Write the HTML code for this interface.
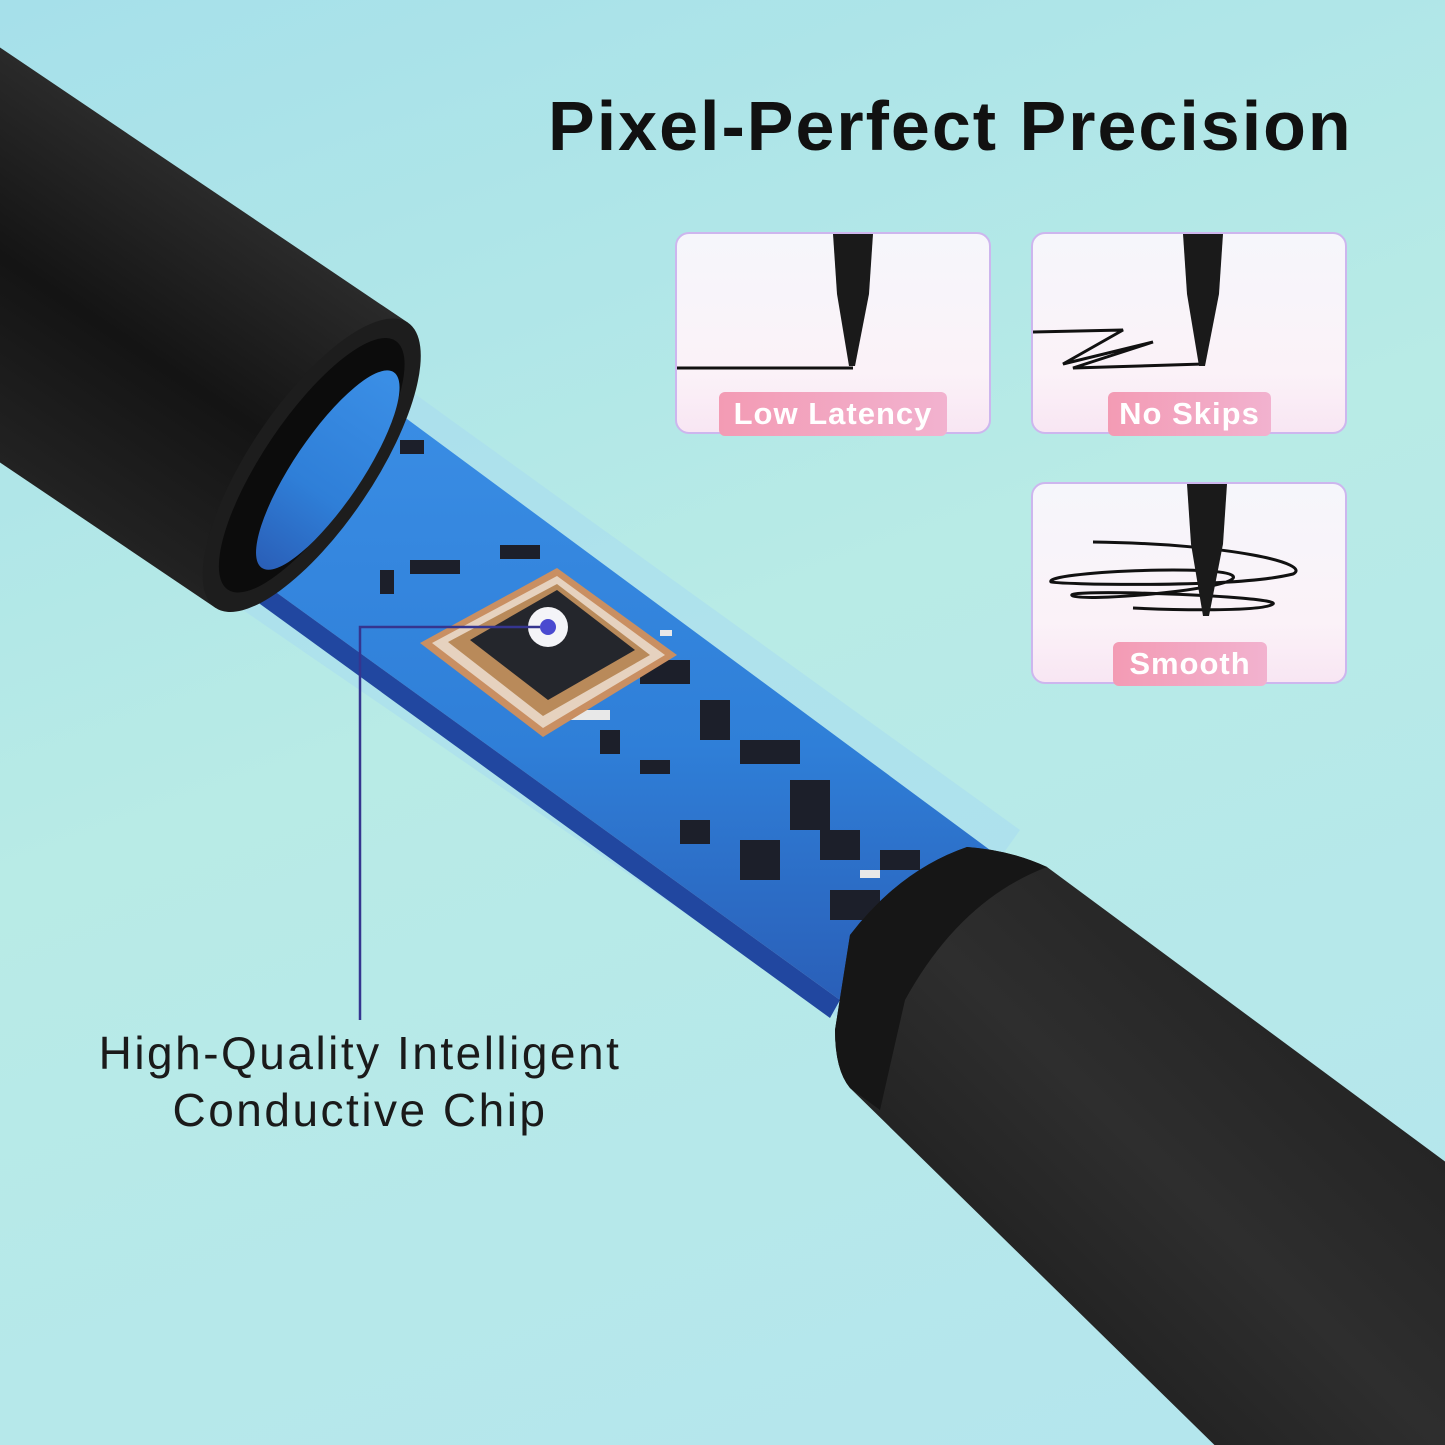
<!DOCTYPE html>
<html><head><meta charset="utf-8"><style>
html,body{margin:0;padding:0}
body{width:1445px;height:1445px;overflow:hidden;background:linear-gradient(160deg,#a6e0ea 0%,#b8ebe6 45%,#b4e5ee 100%);font-family:"Liberation Sans",sans-serif;position:relative}
.t{position:absolute;left:548px;top:86px;font-size:70px;font-weight:bold;color:#111;letter-spacing:2px;white-space:nowrap}
.card{position:absolute;width:312px;height:198px;border:2px solid #cdb6ee;border-radius:14px;background:linear-gradient(180deg,#f6f6fb 0%,#fbf2f8 70%,#f8e6f3 100%);overflow:hidden}
.pill{position:absolute;height:44px;border-radius:6px;background:linear-gradient(90deg,#f39bb4,#f2b2cf);color:#fff;font-weight:bold;font-size:31px;line-height:44px;text-align:center;letter-spacing:1px}
.lbl{position:absolute;left:0;width:720px;text-align:center;font-size:46px;color:#1a1a1a;line-height:57px;top:1025px;letter-spacing:2.5px}
</style></head><body>
<svg width="1445" height="1445" style="position:absolute;left:0;top:0;overflow:hidden">
<defs>
<linearGradient id="blk" x1="0" y1="0" x2="0" y2="1"><stop offset="0" stop-color="#2a2a2a"/><stop offset=".5" stop-color="#141414"/><stop offset="1" stop-color="#222"/></linearGradient>
<linearGradient id="blk2" x1="0" y1="1" x2="1" y2="0"><stop offset="0" stop-color="#121212"/><stop offset=".5" stop-color="#2e2e2e"/><stop offset="1" stop-color="#1a1a1a"/></linearGradient>
<linearGradient id="pcb" x1="0" y1="0" x2="0" y2="1"><stop offset="0" stop-color="#3b8fe6"/><stop offset=".6" stop-color="#2f7fd8"/><stop offset="1" stop-color="#2a5fb8"/></linearGradient>
</defs>
<!-- glow -->
<polygon points="340,340 1020,830 870,1040 170,560" fill="#a8dcf0" opacity=".6"/>
<!-- pcb -->
<polygon points="330,362 990,850 840,1000 190,530" fill="url(#pcb)"/>
<polygon points="190,530 840,1000 830,1018 183,548" fill="#2147a0"/>
<g fill="#1c1f2a">
 <rect x="250" y="440" width="30" height="14"/><rect x="300" y="500" width="20" height="30"/><rect x="400" y="440" width="24" height="14"/>
 <rect x="410" y="560" width="50" height="14"/><rect x="380" y="570" width="14" height="24"/><rect x="500" y="545" width="40" height="14"/>
 <rect x="640" y="660" width="50" height="24"/><rect x="700" y="700" width="30" height="40"/><rect x="740" y="740" width="60" height="24"/>
 <rect x="790" y="780" width="40" height="50"/><rect x="680" y="820" width="30" height="24"/><rect x="740" y="840" width="40" height="40"/>
 <rect x="820" y="830" width="40" height="30"/><rect x="830" y="890" width="50" height="30"/><rect x="880" y="850" width="40" height="20"/>
 <rect x="640" y="760" width="30" height="14"/><rect x="600" y="730" width="20" height="24"/>
</g>
<g fill="#e8e8e8"><rect x="560" y="710" width="50" height="10"/><rect x="460" y="660" width="12" height="6"/><rect x="660" y="630" width="12" height="6"/><rect x="860" y="870" width="20" height="8"/></g>
<g transform="translate(0,255) rotate(34)">
 <rect x="-500" y="-172" width="876" height="344" fill="url(#blk)"/>
 <ellipse cx="376" cy="0" rx="62" ry="172" fill="#1d1d1d"/>
 <ellipse cx="376" cy="0" rx="48" ry="150" fill="#0c0c0c"/>
 <ellipse cx="392" cy="-5" rx="34" ry="118" fill="url(#pcb)"/>
</g>
<!-- lower body -->
<path d="M967,847 Q1010,850 1047,867 L1470,1180 L1470,1470 L1240,1470 L850,1088 Q835,1070 835,1030 L850,935 Q900,870 967,847 Z" fill="url(#blk2)"/>
<path d="M967,847 Q1010,850 1047,867 Q960,900 905,1000 L880,1110 L850,1088 Q835,1070 835,1030 L850,935 Q900,870 967,847 Z" fill="#161616"/>
<!-- chip -->
<polygon points="420,643 557,568 677,655 543,737" fill="#c98f62"/>
<polygon points="432,643 557,576 665,655 543,728" fill="#e6d2bf"/>
<polygon points="448,642 557,584 650,655 543,716" fill="#b98a5a"/>
<polygon points="470,640 557,590 635,650 548,700" fill="#24262c"/>
<circle cx="548" cy="627" r="20" fill="#f4f4f8"/>
<circle cx="548" cy="627" r="8" fill="#4a4ad0"/>
<polyline points="540,627 360,627 360,1020" fill="none" stroke="#35358f" stroke-width="2.5"/>
</svg>
<div class="t">Pixel-Perfect Precision</div>

<div class="card" style="left:675px;top:232px">
<svg width="312" height="198" style="position:absolute;left:0;top:0">
<line x1="0" y1="134" x2="176" y2="134" stroke="#111" stroke-width="3"/>
<polygon points="156,0 196,0 192,60 178,132 172,132 160,60" fill="#1a1a1a"/>
</svg></div>
<div class="pill" style="left:719px;top:392px;width:228px">Low Latency</div>

<div class="card" style="left:1031px;top:232px">
<svg width="312" height="198" style="position:absolute;left:0;top:0">
<path d="M0,98 L90,96 L30,130 L120,108 L40,134 L170,130" fill="none" stroke="#111" stroke-width="3"/>
<polygon points="150,0 190,0 186,60 172,132 166,132 154,60" fill="#1a1a1a"/>
</svg></div>
<div class="pill" style="left:1108px;top:392px;width:163px">No Skips</div>

<div class="card" style="left:1031px;top:482px">
<svg width="312" height="198" style="position:absolute;left:0;top:0">
<path d="M60,58 C200,60 280,80 260,90 C200,105 20,100 18,98 C10,88 190,80 200,92 C210,104 60,118 40,112 C20,104 250,112 240,120 C230,128 140,126 100,124" fill="none" stroke="#111" stroke-width="3"/>
<polygon points="154,0 194,0 190,60 176,132 170,132 158,60" fill="#1a1a1a"/>
</svg></div>
<div class="pill" style="left:1113px;top:642px;width:154px">Smooth</div>

<div class="lbl">High-Quality Intelligent<br>Conductive Chip</div>
</body></html>
